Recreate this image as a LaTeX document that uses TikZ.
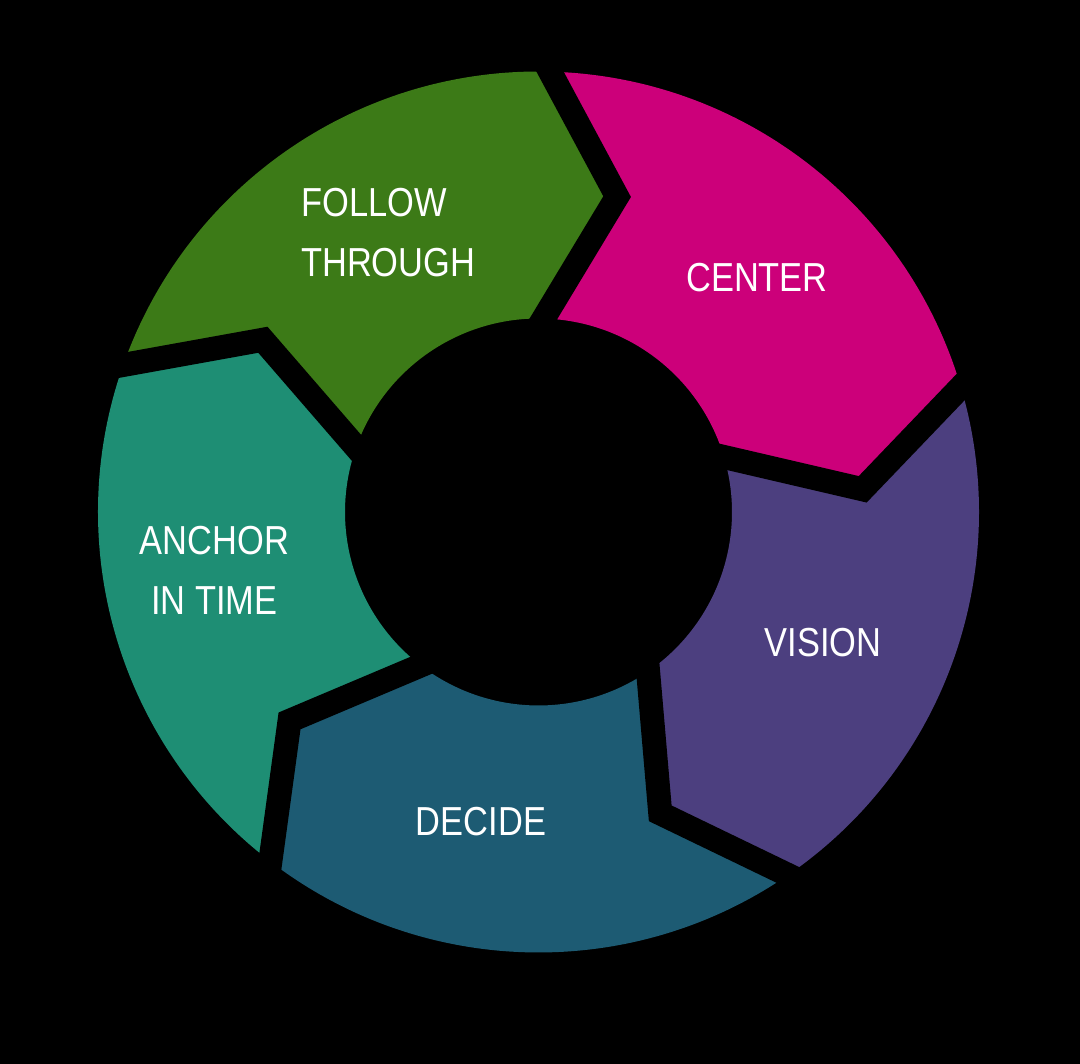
\documentclass[tikz,border=0pt]{standalone}
\usepackage{fontspec}
\setmainfont[FakeStretch=0.85]{Liberation Sans}
\definecolor{cgreen}{HTML}{3C7A17}
\definecolor{cmag}{HTML}{CC007A}
\definecolor{cpurp}{HTML}{4C3F7F}
\definecolor{cblue}{HTML}{1D5B73}
\definecolor{cteal}{HTML}{1E8E74}
\tikzset{
  gapline/.style={line width=24pt, draw=black, line join=miter, miter limit=10,
    shorten <=-18pt, shorten >=-18pt},
  lbl/.style={text=white, inner sep=0pt, font=\fontsize{40.5}{60}\selectfont}
}
\begin{document}
\begin{tikzpicture}[x=1pt,y=1pt]
\fill[black] (0,0) rectangle (1080,1064);
\useasboundingbox (0,0) rectangle (1080,1064);
\begin{scope}[shift={(538.5,552)}]
\foreach \a/\c in {160.5/cgreen, 88.5/cmag, 16.5/cpurp, -55.5/cblue, -127.5/cteal}{
  \pgfmathsetmacro\bb{\a-72}
  \pgfmathsetmacro\tb{\a-84.5}
  \pgfmathsetmacro\ta{\a-12.5}
  \fill[\c] (\a:440.5) arc[start angle=\a, end angle=\bb, radius=440.5]
    -- (\tb:325) -- (\bb:193.5)
    arc[start angle=\bb, end angle=\a, radius=193.5]
    -- (\ta:325) -- cycle;
}
\foreach \a in {160.5, 88.5, 16.5, -55.5, -127.5}{
  \pgfmathsetmacro\ta{\a-12.5}
  \draw[gapline] (\a:440.5) -- (\ta:325) -- (\a:193.5);
}
\end{scope}
\node[lbl, anchor=base west, align=left] (follow) at (301,787) {FOLLOW\\THROUGH};
\node[lbl, anchor=base] (center) at (757,772) {CENTER};
\node[lbl, anchor=base] (vision) at (823,407) {VISION};
\node[lbl, anchor=base] (decide) at (481,228) {DECIDE};
\node[lbl, anchor=base, align=center] (anchor) at (214.5,449) {ANCHOR\\IN TIME};
\end{tikzpicture}
\end{document}
